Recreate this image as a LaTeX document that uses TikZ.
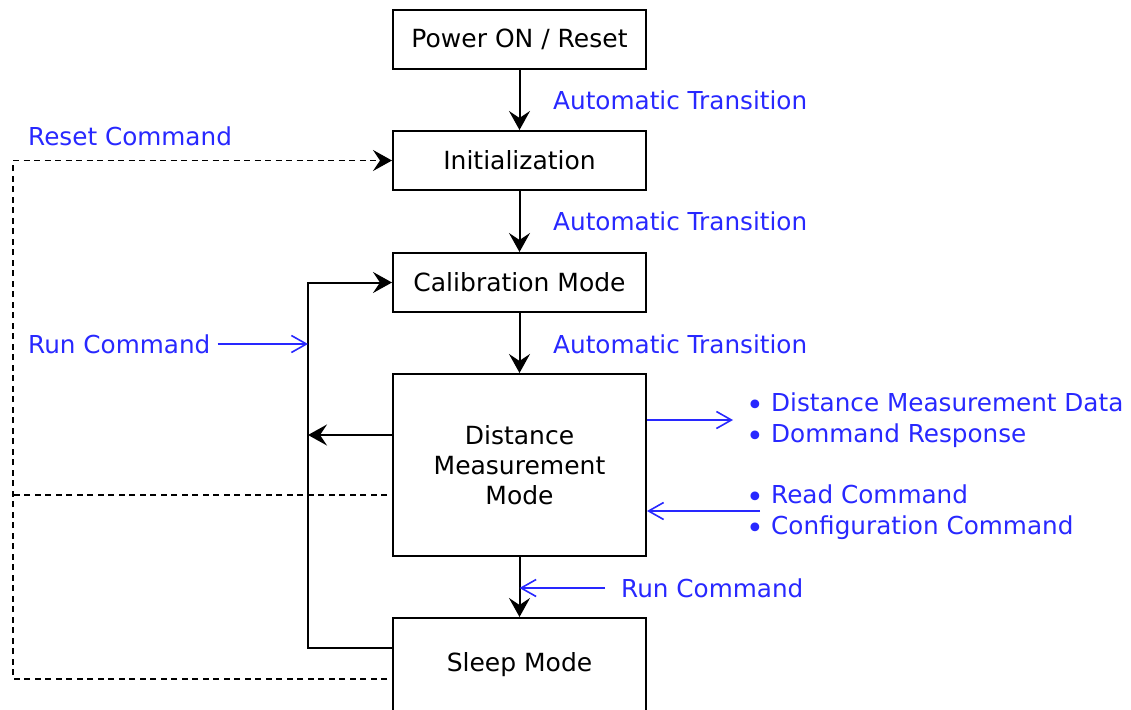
\documentclass[tikz,border=0pt]{standalone}
\usepackage{fontspec}
\setmainfont{DejaVu Sans}
\usetikzlibrary{arrows.meta}
\definecolor{cmdblue}{RGB}{40,40,255}
\newcommand{\msgdot}{\makebox[22pt][l]{\hspace{-3pt}\raisebox{-4pt}{\fontsize{30}{31}\selectfont\textbullet}}}
\begin{document}
\begin{tikzpicture}[x=1pt, y=-1pt,
  state/.style={shape=rectangle, draw=black, line width=2pt, minimum width=253pt, minimum height=59pt, align=center, font=\fontsize{25}{30}\selectfont},
  note/.style={text=cmdblue, font=\fontsize{24.7}{31}\selectfont, inner sep=0pt},
  flow/.style={line width=2pt, -{Stealth[length=19pt, width=21pt, inset=7pt]}},
  loop/.style={line width=1.4pt, dash pattern=on 6pt off 4.5pt},
  msg/.style={draw=cmdblue, line width=1.6pt, -{Straight Barb[length=15pt, width=17pt]}}]
\useasboundingbox (0,0) rectangle (1131,709);
\node[state] (pwr) at (519.5,39.5) {Power ON / Reset};
\node[state] (init) at (519.5,160.5) {Initialization};
\node[state] (calib) at (519.5,282.5) {Calibration Mode};
\node[state, minimum height=182pt] (dmm) at (519.5,465) {Distance\\Measurement\\Mode};
\node[state, minimum height=94pt] (sleep) at (519.5,665) {Sleep Mode};
\node[note, anchor=west] (auto1) at (553,100) {Automatic Transition};
\node[note, anchor=west] (auto2) at (553,221) {Automatic Transition};
\node[note, anchor=west] (auto3) at (553,344) {Automatic Transition};
\node[note, anchor=west] (resetcmd) at (28,136) {Reset Command};
\node[note, anchor=west] (runleft) at (28,344) {Run Command};
\node[note, anchor=west] (runbot) at (621,588) {Run Command};
\node[note, anchor=west, align=left] (outmsg) at (749,420) {\msgdot Distance Measurement Data\\\msgdot Dommand Response};
\node[note, anchor=west, align=left] (inmsg) at (749,512) {\msgdot Read Command\\\msgdot Configuration Command};
% corners of the side paths
\coordinate (rtop) at (13,160.5);
\coordinate (rmid) at (13,495);
\coordinate (rbot) at (13,679);
\coordinate (ctop) at (308,282.5);
\coordinate (cmid) at (308,435);
\coordinate (crun) at (308,344);
\coordinate (outend) at (733,420);
\coordinate (inbeg) at (760,511);
\coordinate (runend) at (519.5,588);
\draw[flow] (pwr) -- (init);
\draw[flow] (init) -- (calib);
\draw[flow] (calib) -- (dmm);
\draw[flow] (dmm) -- (sleep);
\draw[loop, -{Stealth[length=19pt, width=21pt, inset=7pt]}] ([xshift=-5pt]sleep.west |- rbot) -- (rbot) -- (rtop) -- (init.west);
\draw[loop] ([xshift=-5pt]dmm.west |- rmid) -- (rmid);
\draw[flow] (sleep.west |- 0,648) -| (ctop) -- (calib.west);
\draw[flow] (dmm.west |- cmid) -- (cmid);
\draw[msg] ([xshift=7pt]runleft.east) -- (crun);
\draw[msg] (dmm.east |- outend) -- (outend);
\draw[msg] (inbeg) -- (dmm.east |- inbeg);
\draw[msg] ([xshift=-16pt]runbot.west) -- (runend);
\end{tikzpicture}
\end{document}
